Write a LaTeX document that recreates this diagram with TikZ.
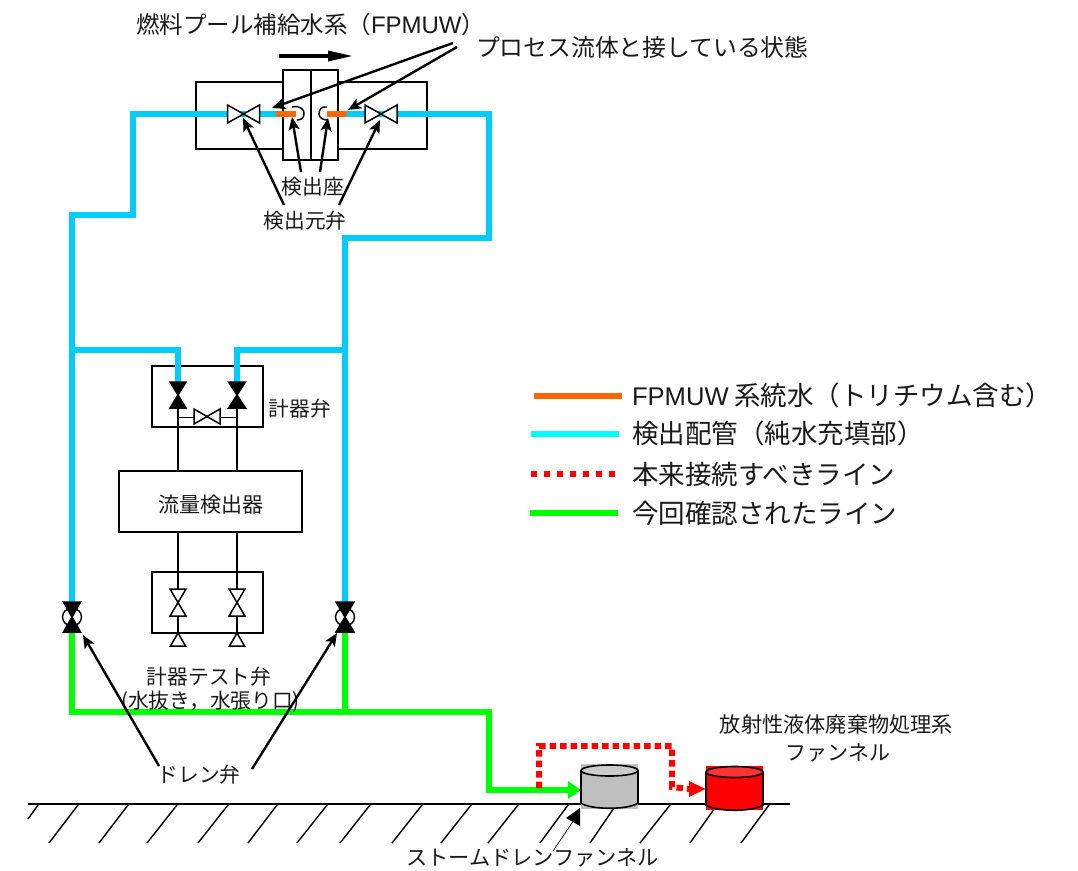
\documentclass[tikz,border=0pt]{standalone}
\usepackage{fontspec}
\setmainfont{Noto Sans CJK JP}
\newfontfamily\latf{Liberation Sans}
\usetikzlibrary{arrows.meta}
\newcommand\fsz[1]{\fontsize{#1}{#1}\selectfont}
\definecolor{pipeblue}{HTML}{00CCFF}
\definecolor{legcyan}{HTML}{00FFFF}
\definecolor{tritium}{HTML}{FF6600}
\definecolor{greenline}{HTML}{00FF00}
\definecolor{redline}{HTML}{FF0000}
\tikzset{
  x=1pt,y=-1pt,
  every node/.style={inner sep=0pt,outer sep=0pt,text=black!90},
  boxline/.style={draw=black,line width=1.5pt},
  thinpipe/.style={draw=black,line width=1.5pt},
  bluepipe/.style={draw=pipeblue,line width=6pt,miter limit=10},
  orangepipe/.style={draw=tritium,line width=6pt},
  greenpipe/.style={draw=greenline,line width=6pt},
  redpipe/.style={draw=redline,line width=6pt,dash pattern=on 6.5pt off 4pt},
  pointer/.style={draw=black,line width=2.4pt,-{Stealth[length=13pt,width=11pt,inset=3pt]}},
  arcline/.style={draw=black,line width=1.4pt},
  hatchline/.style={draw=black,line width=1.4pt},
  biglabel/.style={font=\fsz{23.8}},
  midlabel/.style={font=\fsz{20.7}},
  leglabel/.style={font=\fsz{26.5},anchor=west},
}
\newcommand\bowV[5]{\draw[draw=black,line width=1.5pt,fill=#5] (#1-#3,#2-#4) -- (#1+#3,#2-#4) -- (#1-#3,#2+#4) -- (#1+#3,#2+#4) -- cycle;}
\newcommand\bowH[5]{\draw[draw=black,line width=1.5pt,fill=#5] (#1-#3,#2-#4) -- (#1-#3,#2+#4) -- (#1+#3,#2-#4) -- (#1+#3,#2+#4) -- cycle;}
\begin{document}
\begin{tikzpicture}
\useasboundingbox (0,0) rectangle (1078,870);
% ---- named points
\coordinate (lv) at (72,617);
\coordinate (rv) at (345,617);
\coordinate (lj) at (72,350);
\coordinate (rj) at (345,350);
\coordinate (lg) at (72,712);
\coordinate (rg) at (345,712);
\coordinate (fv1) at (243.5,114);
\coordinate (fv2) at (381,114);
% ---- boxes
\node[boxline,minimum width=231pt,minimum height=67pt] (wide) at (311.5,115.5) {};
\node[boxline,fill=white,minimum width=55pt,minimum height=90pt] (seat) at (310.5,115) {};
\draw[boxline] (seat.north) ++(0.5,0) -- ++(0,90);
\node[boxline,minimum width=111pt,minimum height=61pt] (ibox) at (207.5,396.5) {};
\node[boxline,minimum width=111pt,minimum height=61pt] (tbox) at (207.5,602.5) {};
\node[boxline,fill=white,minimum width=183pt,minimum height=61pt] (det) at (210.5,501.5) {};
% ---- thin lines
\draw[thinpipe] (178,408) -- (178,471);
\draw[thinpipe] (237,408) -- (237,471);
\draw[thinpipe] (178,532) -- (178,589);
\draw[thinpipe] (237,532) -- (237,589);
\draw[thinpipe] (178,616) -- (178,633);
\draw[thinpipe] (237,616) -- (237,633);
\draw[draw=black,line width=1pt] (178,417) -- (194,417);
\draw[draw=black,line width=1pt] (220,417) -- (237,417);
% ---- blue pipes
\draw[bluepipe] (lv) ++(0,-15) -- (lj) -- (72,215) -- (133,215) -- (133,114) -- (fv1);
\draw[bluepipe] (rv) ++(0,-15) -- (rj) -- (345,238) -- (489,238) -- (489,114) -- (fv2);
\draw[bluepipe] (lj) -- (178,350) -- (178,382);
\draw[bluepipe] (rj) -- (237,350) -- (237,382);
\draw[bluepipe] (fv1) -- (276,114);
\draw[bluepipe] (fv2) -- (347,114);
\draw[orangepipe] (276,114) -- (296,114);
\draw[orangepipe] (327,114) -- (347,114);
% ---- green pipes
\draw[greenpipe] (lv) ++(0,15) -- (lg) -- (rg) -- (489,712) -- (489,790) -- (569,790);
\draw[greenpipe] (rv) ++(0,15) -- (rg);
\fill[greenline] (568,781) -- (581,790) -- (568,799) -- cycle;
% ---- ground
\draw[draw=black,line width=1.5pt] (28,804) -- (790,804);
\foreach \a/\b in {78/49,128/99,177/147,228/198,277/248,327/297,370/340,422/392,471/441,518/488,568/540,616/590,670/640,717/690,769/741}
  \draw[hatchline] (\a,805) -- (\b,843);
\draw[hatchline] (38,805) -- (28,819);
% ---- funnels
\fill[black!25] (581,764) rectangle (638,809);
\draw[draw=black,line width=1.6pt,fill=black!25] (581,770) -- (581,803) .. controls (590,810) and (629,810) .. (638,803) -- (638,770);
\draw[draw=black,line width=1.6pt,fill=black!20] (609.5,770.5) ellipse [x radius=28.5,y radius=5.5];
\fill[redline] (706,766) rectangle (763,810);
\draw[draw=black,line width=1.6pt,fill=redline] (706,772) -- (706,805) .. controls (715,812) and (754,812) .. (763,805) -- (763,772);
\draw[draw=black,line width=1.6pt,fill=red!80!white] (734.5,772) ellipse [x radius=28.5,y radius=5.5];
% ---- red line
\draw[redpipe] (539,788) -- (539,746) -- (672,746) -- (672,787) -- (690,789);
\fill[redline] (689,781) -- (705.5,789) -- (689,797) -- cycle;
% ---- valves
\bowH{243.5}{114}{16}{9}{white}
\bowH{381}{114}{16}{9}{white}
\bowV{178}{395}{8}{13}{black}
\bowV{237}{395}{8.5}{13}{black}
\bowH{207}{416.5}{13}{7.5}{white}
\bowV{178}{602.5}{8}{13.5}{white}
\bowV{237}{602.5}{8}{13.5}{white}
\draw[thinpipe,fill=white] (170.5,646) -- (178,633) -- (185.5,646) -- cycle;
\draw[thinpipe,fill=white] (229.5,646) -- (237,633) -- (244.5,646) -- cycle;
\draw[draw=black,line width=1.4pt,fill=white] (lv) ellipse [x radius=9.5,y radius=9];
\draw[draw=black,line width=1.4pt,fill=white] (rv) ellipse [x radius=9.5,y radius=9];
\bowV{72}{617}{8.5}{15}{black}
\bowV{345}{617}{9}{15}{black}
% ---- seats arcs
\draw[arcline] (292,107) .. controls (300,105) and (305,110) .. (304,114) .. controls (304,118) and (301,120) .. (297,120);
\draw[arcline] (327,107) .. controls (321,106) and (319,110) .. (319,114) .. controls (319,117) and (322,120) .. (327,120);
% ---- labels
\node[anchor=west,font=\fsz{23.5}] (title) at (136,25) {燃料プール補給水系（\fsz{24}{\latf FPMUW}\fsz{23.5}）};
\node[biglabel,anchor=west] (proc) at (476,47) {プロセス流体と接している状態};
\node[midlabel] (seatl) at (313,187) {検出座};
\node[midlabel] (srcl) at (305,221) {検出元弁};
\node[midlabel] (vall) at (300,409) {計器弁};
\node[font=\fsz{21}] (detl) at (det.center) [yshift=-3.5pt] {流量検出器};
\node[midlabel] (testl) at (209,677) {計器テスト弁};
\node[midlabel] (testm) at (210.5,702) {(水抜き，水張り口)};
\node[midlabel] (drain) at (199,775) {ドレン弁};
\node[font=\fsz{21.2}] (storm) at (532.5,858) {ストームドレンファンネル};
\node[font=\fsz{21.2}] (rad) at (836.5,724) {放射性液体廃棄物処理系};
\node[font=\fsz{21}] (radf) at (838,753) {ファンネル};
% ---- pointers
\coordinate (p1s) at (453,43); \coordinate (p1e) at (272,108);
\coordinate (p2s) at (457,47); \coordinate (p2e) at (348,110);
\draw[pointer] (p1s) -- (p1e);
\draw[pointer] (p2s) -- (p2e);
\draw[pointer] (301,172) -- (292,117);
\draw[pointer] (320,172) -- (328,118);
\draw[pointer] (284,205) -- (243,118);
\draw[pointer] (339,205) -- (380,120);
\draw[pointer] (159,766) -- (83,635);
\draw[pointer] (252,769) -- (337,633);
\draw[draw=black,line width=0.7pt] (553,851) -- (574,820);
\fill[black] (580,808) -- (566,818) -- (580,826) -- cycle;
% ---- flow arrow
\draw[draw=black,line width=4.5pt] (279,56) -- (330,56);
\fill[black] (328,50.5) -- (352,56) -- (328,61.5) -- cycle;
% ---- legend
\coordinate (l1a) at (534,396); \coordinate (l1b) at (622,396);
\coordinate (l2a) at (531,434); \coordinate (l2b) at (619,434);
\coordinate (l3a) at (531,474); \coordinate (l3b) at (616,474);
\coordinate (l4a) at (530,513); \coordinate (l4b) at (618,513);
\draw[draw=tritium,line width=6.5pt] (l1a) -- (l1b);
\draw[draw=legcyan,line width=6.5pt] (l2a) -- (l2b);
\draw[draw=redline,line width=6.5pt,dash pattern=on 6pt off 7pt] (l3a) -- (l3b);
\draw[draw=greenline,line width=6.5pt] (l4a) -- (l4b);
\node[leglabel] (t1) at (632,395) {\fsz{25.6}{\latf FPMUW} \fsz{26.5}系統水（トリチウム含む）};
\node[leglabel] (t2) at (632,433) {検出配管（純水充填部）};
\node[leglabel] (t3) at (632,474) {本来接続すべきライン};
\node[leglabel] (t4) at (632,513) {今回確認されたライン};
\end{tikzpicture}
\end{document}
